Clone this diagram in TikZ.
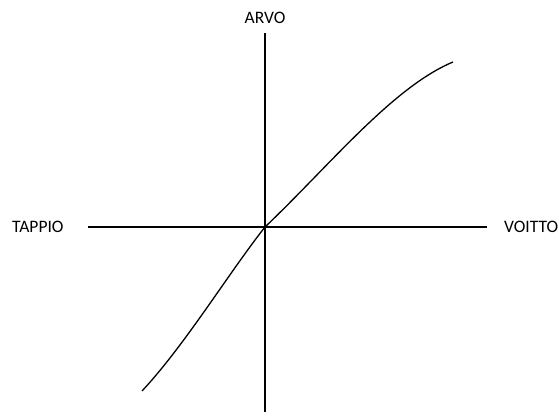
\documentclass[tikz,border=0pt]{standalone}
\usepackage{fontspec}
\setmainfont{Carlito}
\begin{document}
\begin{tikzpicture}[x=1pt,y=-1pt,
  axis/.style={line width=1.3pt},
  curveline/.style={line width=1.3pt},
  lbl/.style={font=\fontsize{17.5}{20}\selectfont, inner sep=0pt}]
\useasboundingbox (0,0) rectangle (559,418);
\coordinate (vt) at (265,33);
\coordinate (vb) at (265,412);
\coordinate (hl) at (88,227);
\coordinate (hr) at (487,227);
\coordinate (o) at (265,227);
\coordinate (cs) at (142,391);
\coordinate (ce) at (453,62);
\node[lbl] (arvo) at (265,18) {ARVO};
\node[lbl, anchor=west] (tappio) at (12,227) {TAPPIO};
\node[lbl, anchor=west] (voitto) at (504,227) {VOITTO};
\draw[axis] (vt) -- (vb);
\draw[axis] (hl) -- (hr);
\draw[curveline] (cs) .. controls (185,345) and (228,274) .. (o)
  .. controls (330,165) and (393,87) .. (ce);
\end{tikzpicture}
\end{document}
